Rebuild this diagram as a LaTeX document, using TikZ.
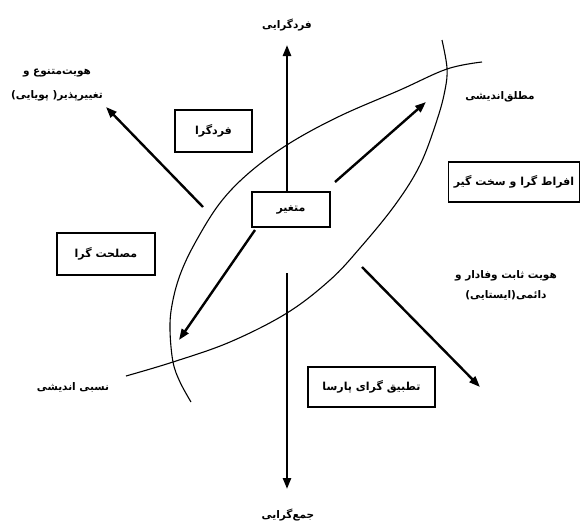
\documentclass[tikz,border=0pt]{standalone}
\usepackage{fontspec}
\newfontfamily\fa[Script=Arabic]{DejaVu Sans}
\TeXXeTstate=1
\usetikzlibrary{arrows.meta}
\begin{document}
\begin{tikzpicture}[x=1pt,y=-1pt,
  lbl/.style={font=\fa\bfseries\fontsize{10.5}{20}\selectfont, align=center, inner sep=0pt},
  tbox/.style={draw, line width=1.3pt, inner sep=0pt, font=\fa\bfseries\fontsize{11}{13}\selectfont},
  arr/.style={line width=2.4pt, -{Triangle[length=11pt,width=8pt]}},
  crv/.style={line width=1.1pt}]
\useasboundingbox (0,0) rectangle (582,525);

% lens curves
\draw[crv] plot[smooth, tension=0.6] coordinates {(191,402) (180,382) (173,362) (170,330) (172,305) (180,275) (195,243) (220,203) (250,172) (290,143) (340,116) (400,90) (447,69) (482,62)};
\draw[crv] plot[smooth, tension=0.6] coordinates {(126,376) (173,362) (230,342) (287,313) (330,280) (360,248) (395,205) (420,165) (437,120) (445,90) (447,68) (442,40)};

% boxes
\node[tbox, minimum width=77pt, minimum height=42pt] (fardgara) at (213.5,131) {\beginR فردگرا\endR};
\node[tbox, minimum width=78pt, minimum height=35pt] (motaghayer) at (291,209.5) {\beginR متغیر\endR};
\node[tbox, minimum width=98pt, minimum height=42pt] (maslahat) at (106,254) {\beginR مصلحت گرا\endR};
\node[tbox, minimum width=131pt, minimum height=40pt] (efrat) at (514,182) {\beginR افراط گرا و سخت گیر\endR};
\node[tbox, minimum width=127pt, minimum height=40pt] (tatbigh) at (371.5,387) {\beginR تطبیق گرای پارسا\endR};

% labels
\node[lbl] (top) at (287,25) {\beginR فردگرایی\endR};
\node[lbl] (bottom) at (288,515) {\beginR جمع‌گرایی\endR};
\node[lbl, font=\fa\bfseries\fontsize{10.5}{24}\selectfont] (nw) at (57,85) {\beginR هویت‌متنوع و\endR\\\beginR تغییرپذیر( پویایی)\endR};
\node[lbl] (motlagh) at (500,97) {\beginR مطلق‌اندیشی\endR};
\node[lbl] (sabet) at (506,285) {\beginR هویت ثابت وفادار و\endR\\\beginR دائمی(ایستایی)\endR};
\node[lbl] (nesbi) at (73,387) {\beginR نسبی اندیشی\endR};

% arrow end points
\coordinate (upS) at (287,192);
\coordinate (upE) at (287,45);
\coordinate (dnS) at (287,273);
\coordinate (dnE) at (287,489);
\coordinate (nwS) at (203,207);
\coordinate (nwE) at (106,107);
\coordinate (neS) at (335,182);
\coordinate (neE) at (426,102);
\coordinate (swS) at (255,230);
\coordinate (swE) at (179,340);
\coordinate (seS) at (362,267);
\coordinate (seE) at (480,387);

\draw[arr] (upS) -- (upE);
\draw[arr] (dnS) -- (dnE);
\draw[arr] (nwS) -- (nwE);
\draw[arr] (neS) -- (neE);
\draw[arr] (swS) -- (swE);
\draw[arr] (seS) -- (seE);
\end{tikzpicture}
\end{document}
